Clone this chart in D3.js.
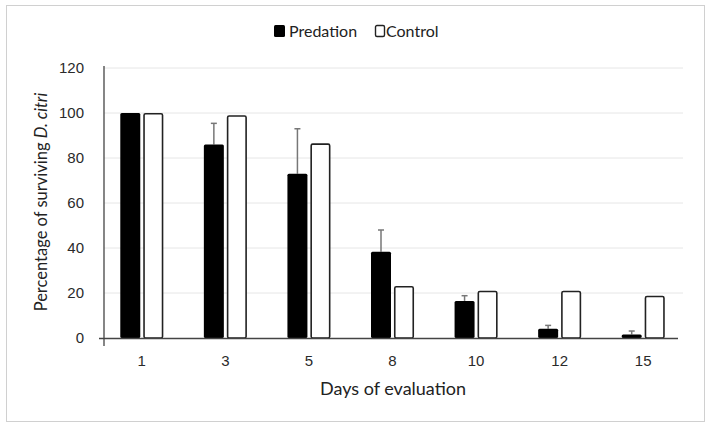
<!DOCTYPE html>
<html>
<head>
<meta charset="utf-8">
<script src="https://cdn.jsdelivr.net/npm/d3@7"></script>
<style>
  body { margin: 0; background: #fff; }
  svg { font-family: Lato, "Open Sans", sans-serif; }
</style>
</head>
<body>
<div id="chart"></div>
<script>
const days = ["1", "3", "5", "8", "10", "12", "15"];
const predation = [100, 86, 73, 38.3, 16.5, 4.1, 1.6];
const predationErr = [0, 9.4, 20, 9.7, 2.3, 1.5, 1.5];
const control = [100, 99, 86.5, 23.1, 21, 21, 18.8];
const yTicks = [0, 20, 40, 60, 80, 100, 120];

const width = 710, height = 427;

const svg = d3.select("#chart").append("svg")
  .attr("width", width)
  .attr("height", height);

// outer frame
svg.append("rect")
  .attr("x", 6.5).attr("y", 5.5)
  .attr("width", 698).attr("height", 416)
  .attr("fill", "#fff")
  .attr("stroke", "#d0d0d0");

const x = d3.scaleBand().domain(days).range([100, 685]);
const y = d3.scaleLinear().domain([0, 120]).range([338, 68]);

const barW = 20, gap = 3;

// gridlines
svg.append("g")
  .selectAll("line")
  .data(yTicks.filter(d => d > 0))
  .join("line")
  .attr("x1", 104).attr("x2", 683)
  .attr("y1", d => y(d)).attr("y2", d => y(d))
  .attr("stroke", "#e6e6e6");

// y axis
const yAxis = svg.append("g")
  .attr("transform", "translate(104,0)")
  .call(d3.axisLeft(y).tickValues(yTicks).tickSize(0).tickPadding(20));
yAxis.select(".domain").remove();
yAxis.selectAll("text")
  .attr("font-size", 15)
  .attr("fill", "#2a2a2a");

svg.append("line")
  .attr("x1", 104).attr("x2", 104)
  .attr("y1", 66).attr("y2", 346)
  .attr("stroke", "#444").attr("stroke-width", 1.3);

// bars
const groups = svg.append("g")
  .selectAll("g")
  .data(days)
  .join("g")
  .attr("transform", d => `translate(${x(d) + x.bandwidth() / 2},0)`);

groups.append("line")
  .attr("x1", -gap / 2 - barW / 2).attr("x2", -gap / 2 - barW / 2)
  .attr("y1", (d, i) => y(predation[i]))
  .attr("y2", (d, i) => y(predation[i] + predationErr[i]))
  .attr("stroke", "#777").attr("stroke-width", 1.5);

groups.append("line")
  .attr("x1", -gap / 2 - barW / 2 - 3).attr("x2", -gap / 2 - barW / 2 + 3)
  .attr("y1", (d, i) => y(predation[i] + predationErr[i]))
  .attr("y2", (d, i) => y(predation[i] + predationErr[i]))
  .attr("stroke", "#777").attr("stroke-width", 1.5)
  .attr("display", (d, i) => predationErr[i] > 0 ? null : "none");

groups.append("rect")
  .attr("x", -gap / 2 - barW)
  .attr("width", barW)
  .attr("y", (d, i) => y(predation[i]))
  .attr("height", (d, i) => y(0) - y(predation[i]))
  .attr("rx", 1.5)
  .attr("fill", "#000");

groups.append("rect")
  .attr("x", gap / 2 + 0.75)
  .attr("width", barW - 1.5)
  .attr("y", (d, i) => y(control[i]) + 0.75)
  .attr("height", (d, i) => y(0) - y(control[i]) - 0.75)
  .attr("rx", 1.5)
  .attr("fill", "#fff")
  .attr("stroke", "#222").attr("stroke-width", 1.6);

// x axis
svg.append("line")
  .attr("x1", 99).attr("x2", 678)
  .attr("y1", 338.5).attr("y2", 338.5)
  .attr("stroke", "#444").attr("stroke-width", 1.3);

const xAxis = svg.append("g")
  .attr("transform", "translate(0,338)")
  .call(d3.axisBottom(x).tickSize(0).tickPadding(17));
xAxis.select(".domain").remove();
xAxis.selectAll("text")
  .attr("font-size", 15)
  .attr("fill", "#2a2a2a");

// axis titles
svg.append("text")
  .attr("x", 393).attr("y", 395)
  .attr("text-anchor", "middle")
  .attr("font-size", 18)
  .attr("fill", "#222")
  .text("Days of evaluation");

const yTitle = svg.append("text")
  .attr("transform", "translate(47,202) rotate(-90)")
  .attr("text-anchor", "middle")
  .attr("font-size", 16.5)
  .attr("fill", "#222");
yTitle.append("tspan").text("Percentage of surviving ");
yTitle.append("tspan").attr("font-style", "italic").text("D. citri");

// legend
const legend = svg.append("g").attr("transform", "translate(274,25)");
legend.append("rect")
  .attr("x", 0).attr("y", 0).attr("width", 11).attr("height", 12)
  .attr("rx", 1.5).attr("fill", "#000");
legend.append("text")
  .attr("x", 15).attr("y", 11.5)
  .attr("font-size", 16).attr("fill", "#222")
  .text("Predation");
legend.append("rect")
  .attr("x", 101.5).attr("y", 0.5).attr("width", 9).attr("height", 11)
  .attr("rx", 1.5).attr("fill", "#fff")
  .attr("stroke", "#222").attr("stroke-width", 1.4);
legend.append("text")
  .attr("x", 112).attr("y", 11.5)
  .attr("font-size", 16).attr("fill", "#222")
  .text("Control");
</script>
</body>
</html>
